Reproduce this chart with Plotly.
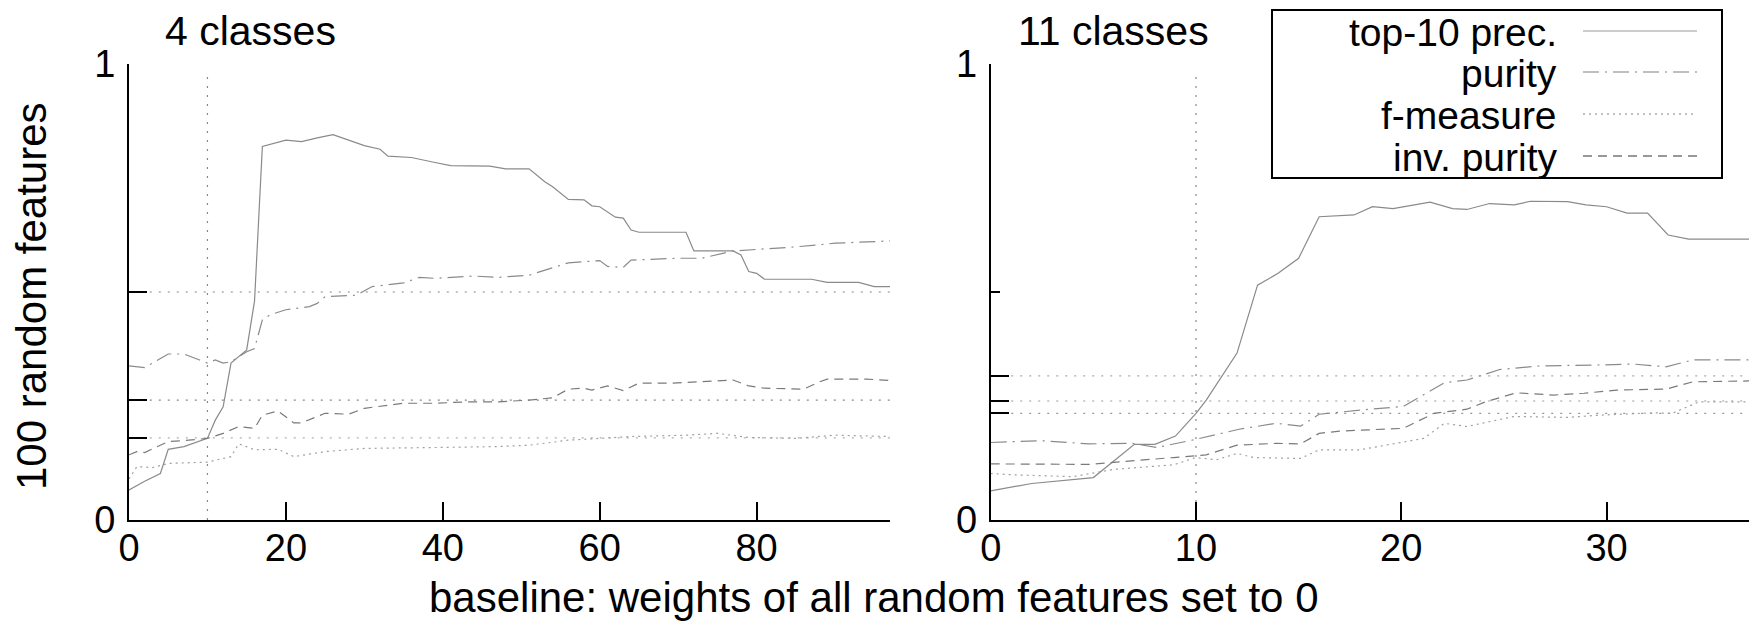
import plotly.graph_objects as go

# ---------------- data ----------------
# left panel: 4 classes
l_top_x = [0, 2, 4, 5, 7, 10, 11, 12, 13, 15, 16, 17, 20, 22, 24, 26, 30, 32, 33, 36, 39, 41, 46, 48, 51, 53, 54, 56, 58, 59, 60, 62, 63, 64, 65, 71, 72, 77, 78, 79, 80, 81, 87, 89, 93, 95, 97]
l_top_y = [0.066, 0.085, 0.102, 0.155, 0.161, 0.179, 0.219, 0.248, 0.344, 0.373, 0.48, 0.819, 0.833, 0.830, 0.838, 0.845, 0.821, 0.813, 0.798, 0.795, 0.784, 0.777, 0.776, 0.770, 0.770, 0.742, 0.731, 0.703, 0.702, 0.689, 0.687, 0.664, 0.662, 0.636, 0.631, 0.631, 0.590, 0.590, 0.581, 0.545, 0.541, 0.528, 0.528, 0.521, 0.521, 0.512, 0.512]

l_pur_x = [0, 2, 5, 7, 9, 10, 11, 12, 13, 15, 16, 17, 18, 20, 23, 24, 25, 29, 31, 35, 37, 39, 44, 47, 51, 53, 56, 60, 61, 63, 64, 70, 73, 77, 81, 85, 90, 94, 97]
l_pur_y = [0.338, 0.334, 0.364, 0.364, 0.351, 0.344, 0.351, 0.344, 0.347, 0.369, 0.376, 0.439, 0.45, 0.461, 0.468, 0.475, 0.49, 0.493, 0.512, 0.52, 0.532, 0.53, 0.535, 0.532, 0.537, 0.548, 0.564, 0.569, 0.556, 0.554, 0.57, 0.574, 0.574, 0.59, 0.594, 0.599, 0.607, 0.61, 0.612]

l_fm_x = [0, 1, 3, 5, 10, 13, 14, 16, 19, 21, 25, 30, 39, 47, 51, 56, 60, 64, 71, 75, 79, 85, 90, 97]
l_fm_y = [0.09, 0.117, 0.115, 0.124, 0.127, 0.139, 0.167, 0.154, 0.155, 0.139, 0.15, 0.157, 0.159, 0.161, 0.164, 0.175, 0.179, 0.183, 0.186, 0.19, 0.181, 0.179, 0.186, 0.183]

l_inv_x = [0, 1, 2, 5, 7, 10, 12, 14, 16, 17, 19, 21, 22, 25, 28, 30, 35, 39, 43, 47, 51, 54, 56, 58, 59, 61, 63, 65, 69, 73, 77, 79, 81, 86, 88, 89, 94, 97]
l_inv_y = [0.143, 0.150, 0.148, 0.172, 0.174, 0.179, 0.19, 0.205, 0.201, 0.23, 0.239, 0.213, 0.213, 0.234, 0.232, 0.245, 0.256, 0.256, 0.259, 0.259, 0.263, 0.268, 0.287, 0.289, 0.285, 0.294, 0.284, 0.3, 0.3, 0.303, 0.307, 0.294, 0.289, 0.287, 0.303, 0.309, 0.309, 0.306]

l_baselines = [0.5, 0.263, 0.18]

# right panel: 11 classes
r_top_x = [0, 2, 5, 7, 8, 9, 10, 10.5, 12, 13, 14, 15, 16, 17.7, 18.6, 19.6, 21.4, 22.5, 23.2, 24.3, 25.5, 26.3, 28.1, 29, 30, 31, 32, 33, 34, 37]
r_top_y = [0.064, 0.08, 0.093, 0.166, 0.166, 0.184, 0.234, 0.263, 0.366, 0.515, 0.541, 0.574, 0.665, 0.669, 0.687, 0.683, 0.697, 0.683, 0.681, 0.694, 0.691, 0.699, 0.698, 0.691, 0.687, 0.673, 0.673, 0.625, 0.616, 0.616]

r_pur_x = [0, 2.4, 4.8, 6.9, 8.1, 10, 12.1, 13.9, 15.1, 16, 18, 20.1, 22.1, 23.2, 24.8, 26.8, 29.7, 31.3, 32.9, 34.2, 37]
r_pur_y = [0.17, 0.174, 0.167, 0.168, 0.159, 0.177, 0.199, 0.212, 0.206, 0.232, 0.241, 0.249, 0.301, 0.307, 0.330, 0.338, 0.340, 0.342, 0.336, 0.351, 0.351]

r_fm_x = [0, 1.1, 4, 6, 8.9, 10, 11, 12, 12.8, 15.1, 16, 18, 21.1, 22.1, 23.2, 25.5, 28.1, 29.7, 32.3, 33.2, 34.5, 37]
r_fm_y = [0.102, 0.099, 0.095, 0.111, 0.121, 0.137, 0.132, 0.146, 0.137, 0.135, 0.154, 0.154, 0.179, 0.212, 0.205, 0.227, 0.225, 0.230, 0.235, 0.234, 0.259, 0.259]

r_inv_x = [0, 4.8, 8.9, 10.5, 12, 13.9, 15.1, 16, 17, 20.1, 21.6, 23.2, 24.1, 25.6, 27.4, 28.9, 30.5, 32.9, 34.2, 37]
r_inv_y = [0.123, 0.122, 0.137, 0.143, 0.164, 0.168, 0.167, 0.19, 0.195, 0.201, 0.234, 0.243, 0.259, 0.279, 0.274, 0.278, 0.285, 0.287, 0.303, 0.305]

r_baselines = [0.316, 0.261, 0.234]

series_names = ["top-10 prec.", "purity", "f-measure", "inv. purity"]
x_ticks_left = [0, 20, 40, 60, 80]
x_ticks_right = [0, 10, 20, 30]
panel_titles = ["4 classes", "11 classes"]
vline_x = 10

# ---------------- styles ----------------
W, H = 1749, 622
FONT = "Liberation Sans, Arial, Helvetica, sans-serif"
styles = [
    dict(color="#8a8a8a", width=1.2, dash="solid"),
    dict(color="#8a8a8a", width=1.2, dash="16px,6px,2px,6px"),
    dict(color="#a0a0a0", width=1.2, dash="2px,4px"),
    dict(color="#7a7a7a", width=1.2, dash="9px,6px"),
]
legend_styles = [
    dict(color="#bbbbbb", width=1.5, dash="solid"),
    dict(color="#aaaaaa", width=1.5, dash="16px,6px,2px,6px"),
    dict(color="#aaaaaa", width=1.5, dash="2px,4px"),
    dict(color="#777777", width=1.5, dash="9px,6px"),
]

def px2x(p):
    return p / W

def px2y(p):
    return 1 - p / H

fig = go.Figure()

left = [(l_top_x, l_top_y), (l_pur_x, l_pur_y), (l_fm_x, l_fm_y), (l_inv_x, l_inv_y)]
right = [(r_top_x, r_top_y), (r_pur_x, r_pur_y), (r_fm_x, r_fm_y), (r_inv_x, r_inv_y)]

for i, (xs, ys) in enumerate(left):
    fig.add_trace(go.Scatter(x=xs, y=ys, mode="lines", line=styles[i], name=series_names[i],
                             showlegend=False, xaxis="x", yaxis="y"))
for i, (xs, ys) in enumerate(right):
    fig.add_trace(go.Scatter(x=xs, y=ys, mode="lines", line=styles[i], name=series_names[i],
                             showlegend=False, xaxis="x2", yaxis="y2"))

shapes = []
base_colors_left = ["#888888", "#888888", "#b0b0b0"]
base_colors_right = ["#aaaaaa", "#999999", "#999999"]
for b, c in zip(l_baselines, base_colors_left):
    shapes.append(dict(type="line", xref="x", yref="y", x0=1.5, x1=97, y0=b, y1=b,
                       line=dict(color=c, width=1.2, dash="2px,7px"), layer="below"))
for b, c in zip(r_baselines, base_colors_right):
    shapes.append(dict(type="line", xref="x2", yref="y2", x0=1, x1=36.94, y0=b, y1=b,
                       line=dict(color=c, width=1.2, dash="2px,7px"), layer="below"))
for xr, yr in [("x", "y"), ("x2", "y2")]:
    shapes.append(dict(type="line", xref=xr, yref=yr, x0=vline_x, x1=vline_x, y0=0, y1=0.987,
                       line=dict(color="#888888", width=1.2, dash="2px,7px"), layer="below"))

# legend box (manual, gnuplot style)
shapes.append(dict(type="rect", xref="paper", yref="paper",
                   x0=px2x(1272), x1=px2x(1722), y0=px2y(178), y1=px2y(10),
                   line=dict(color="black", width=2), fillcolor="white", layer="above"))
annotations = []
rows = [31, 72, 114, 156]
for i, ry in enumerate(rows):
    shapes.append(dict(type="line", xref="paper", yref="paper",
                       x0=px2x(1583), x1=px2x(1697), y0=px2y(ry), y1=px2y(ry),
                       line=legend_styles[i], layer="above"))
    annotations.append(dict(text=series_names[i], xref="paper", yref="paper",
                            x=px2x(1558), y=px2y(ry + 1), xanchor="right", yanchor="middle",
                            showarrow=False, borderpad=0,
                            font=dict(family=FONT, size=39, color="black")))

annotations.append(dict(text=panel_titles[0], xref="paper", yref="paper", x=px2x(164), y=px2y(31),
                        xanchor="left", yanchor="middle", showarrow=False, borderpad=0,
                        font=dict(family=FONT, size=41, color="black")))
annotations.append(dict(text=panel_titles[1], xref="paper", yref="paper", x=px2x(1017), y=px2y(31),
                        xanchor="left", yanchor="middle", showarrow=False, borderpad=0,
                        font=dict(family=FONT, size=41, color="black")))
annotations.append(dict(text="baseline: weights of all random features set to 0", xref="paper", yref="paper",
                        x=px2x(874), y=0, xanchor="center", yanchor="bottom", showarrow=False,
                        borderpad=0, font=dict(family=FONT, size=42, color="black")))
annotations.append(dict(text="100 random features", xref="paper", yref="paper",
                        x=px2x(31), y=px2y(296), xanchor="center", yanchor="middle", textangle=-90,
                        showarrow=False, borderpad=0, font=dict(family=FONT, size=42, color="black")))

axis_common = dict(showgrid=False, zeroline=False, showline=True, linecolor="black", linewidth=2,
                   ticks="inside", ticklen=18, tickwidth=2, tickcolor="black", automargin=False,
                   tickfont=dict(family=FONT, size=38, color="black"))

fig.update_layout(
    width=W, height=H,
    autosize=False,
    margin=dict(l=0, r=0, t=0, b=0, pad=0, autoexpand=False),
    paper_bgcolor="white", plot_bgcolor="white",
    showlegend=False,
    xaxis=dict(domain=[px2x(129), px2x(890)], range=[0, 97], anchor="y",
               tickmode="array", tickvals=x_ticks_left, ticklabelstandoff=-7, **axis_common),
    yaxis=dict(domain=[px2y(520), px2y(64)], range=[0, 1], anchor="x",
               tickmode="array", tickvals=[0] + sorted(l_baselines) + [1],
               ticktext=["0", "", "", "", "1"], ticklabelstandoff=4, **axis_common),
    xaxis2=dict(domain=[px2x(990.7), 1.0], range=[0, 36.94], anchor="y2",
                tickmode="array", tickvals=x_ticks_right, ticklabelstandoff=-7, **axis_common),
    yaxis2=dict(domain=[px2y(520), px2y(64)], range=[0, 1], anchor="x2",
                tickmode="array", tickvals=[0] + sorted(r_baselines) + [1],
                ticktext=["0", "", "", "", "1"], ticklabelstandoff=4,
                minor=dict(tickmode="array", tickvals=[0.5], ticks="inside", ticklen=9,
                           tickwidth=2, tickcolor="black", showgrid=False),
                **axis_common),
    shapes=shapes,
    annotations=annotations,
)

fig.write_html("out.html", config={"displayModeBar": False},
               post_script="document.body.style.margin='0';document.body.style.overflow='hidden';")
